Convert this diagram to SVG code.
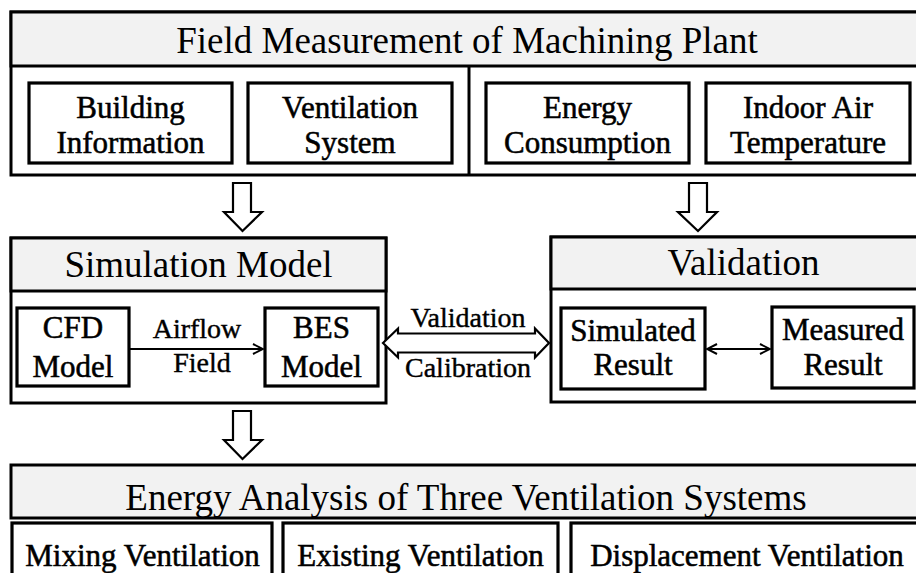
<svg xmlns="http://www.w3.org/2000/svg" width="916" height="573" viewBox="0 0 916 573">
  <style>
    .frame { fill: #ffffff; stroke: #000000; stroke-width: 3; }
    .head { fill: #f2f2f2; stroke: #000000; stroke-width: 3; }
    .box { fill: #ffffff; stroke: #000000; stroke-width: 3.2; }
    .block { fill: #ffffff; stroke: #000000; stroke-width: 2.2; stroke-linejoin: miter; }
    .link { fill: none; stroke: #000000; stroke-width: 2.2; }
    text { fill: #000000; text-anchor: middle; }
    .title { font-size: 37px; }
    .label { font-size: 31px; stroke: #000000; stroke-width: 0.55px; }
    .edge { font-size: 28px; stroke: #000000; stroke-width: 0.4px; }
  </style>
  <defs>
    <marker id="chev" viewBox="0 0 12 12" refX="11" refY="6" markerWidth="12" markerHeight="12" markerUnits="userSpaceOnUse" orient="auto-start-reverse">
      <path d="M1,1 L11,6 L1,11" fill="none" stroke="#000000" stroke-width="2"/>
    </marker>
  </defs>

  <rect width="916" height="573" fill="#ffffff"/>

  <g font-family="'Liberation Serif', 'Times New Roman', serif">
  <!-- Field measurement panel -->
  <g id="field-measurement">
    <rect class="frame" x="11" y="12" width="930" height="163"/>
    <rect class="head" x="11" y="12" width="930" height="54"/>
    <line x1="469" y1="66" x2="469" y2="175" stroke="#000000" stroke-width="3"/>
    <text class="title" x="467" y="53">Field Measurement of Machining Plant</text>
  </g>
  <g id="building-information">
    <rect class="box" x="29" y="83" width="203" height="80"/>
    <text class="label" x="130.5" y="118">Building</text>
    <text class="label" x="130.5" y="153">Information</text>
  </g>
  <g id="ventilation-system">
    <rect class="box" x="248" y="83" width="204" height="80"/>
    <text class="label" x="350" y="118">Ventilation</text>
    <text class="label" x="350" y="153">System</text>
  </g>
  <g id="energy-consumption">
    <rect class="box" x="486" y="83" width="203" height="80"/>
    <text class="label" x="587.5" y="118">Energy</text>
    <text class="label" x="587.5" y="153">Consumption</text>
  </g>
  <g id="indoor-air-temperature">
    <rect class="box" x="706" y="83" width="204" height="80"/>
    <text class="label" x="808" y="118">Indoor Air</text>
    <text class="label" x="808" y="153">Temperature</text>
  </g>

  <!-- Simulation model panel -->
  <g id="simulation-model">
    <rect class="frame" x="11" y="238" width="375" height="165"/>
    <rect class="head" x="11" y="238" width="375" height="53"/>
    <text class="title" x="198.5" y="277">Simulation Model</text>
  </g>
  <g id="cfd-model">
    <rect class="box" x="17" y="308" width="112" height="78"/>
    <text class="label" x="73" y="338">CFD</text>
    <text class="label" x="73" y="377">Model</text>
  </g>
  <g id="bes-model">
    <rect class="box" x="265" y="308" width="113" height="78"/>
    <text class="label" x="321.5" y="338">BES</text>
    <text class="label" x="321.5" y="377">Model</text>
  </g>

  <!-- Validation panel -->
  <g id="validation">
    <rect class="frame" x="551" y="237" width="390" height="165"/>
    <rect class="head" x="551" y="237" width="390" height="52"/>
    <text class="title" x="743.5" y="275">Validation</text>
  </g>
  <g id="simulated-result">
    <rect class="box" x="561" y="308" width="144" height="81"/>
    <text class="label" x="633" y="341">Simulated</text>
    <text class="label" x="633" y="375">Result</text>
  </g>
  <g id="measured-result">
    <rect class="box" x="772" y="307" width="142" height="81"/>
    <text class="label" x="843" y="340">Measured</text>
    <text class="label" x="843" y="375">Result</text>
  </g>

  <!-- Energy analysis panel -->
  <g id="energy-analysis">
    <rect class="head" x="11" y="465" width="930" height="53"/>
    <text class="title" x="466" y="510">Energy Analysis of Three Ventilation Systems</text>
  </g>
  <g id="mixing-ventilation">
    <rect class="box" x="12" y="523" width="260" height="70"/>
    <text class="label" x="142.5" y="566" font-size="30">Mixing Ventilation</text>
  </g>
  <g id="existing-ventilation">
    <rect class="box" x="283" y="523" width="275" height="70"/>
    <text class="label" x="420.5" y="566" font-size="30">Existing Ventilation</text>
  </g>
  <g id="displacement-ventilation">
    <rect class="box" x="571" y="523" width="370" height="70"/>
    <text class="label" x="747" y="566" font-size="30">Displacement Ventilation</text>
  </g>

  <!-- Connectors -->
  <g id="connectors">
    <polygon class="block" points="233,183 251,183 251,212 262,212 242.5,231 224,212 233,212"/>
    <polygon class="block" points="689,183 707,183 707,212 717,212 698,231 678,212 689,212"/>
    <polygon class="block" points="233,411 251,411 251,440 262,440 242.5,459 224,440 233,440"/>
    <polygon class="block" points="383,343 398,328.5 398,333.5 535,333.5 535,328.5 549,343 535,357.5 535,352.5 398,352.5 398,357.5"/>
    <text class="edge" x="468" y="327">Validation</text>
    <text class="edge" x="468" y="377">Calibration</text>
    <line class="link" x1="130" y1="349" x2="263" y2="349" marker-end="url(#chev)"/>
    <text class="edge" x="197" y="338">Airflow</text>
    <text class="edge" x="202" y="372">Field</text>
    <line class="link" x1="707" y1="349" x2="770" y2="349" marker-start="url(#chev)" marker-end="url(#chev)"/>
  </g>
  </g>
</svg>
